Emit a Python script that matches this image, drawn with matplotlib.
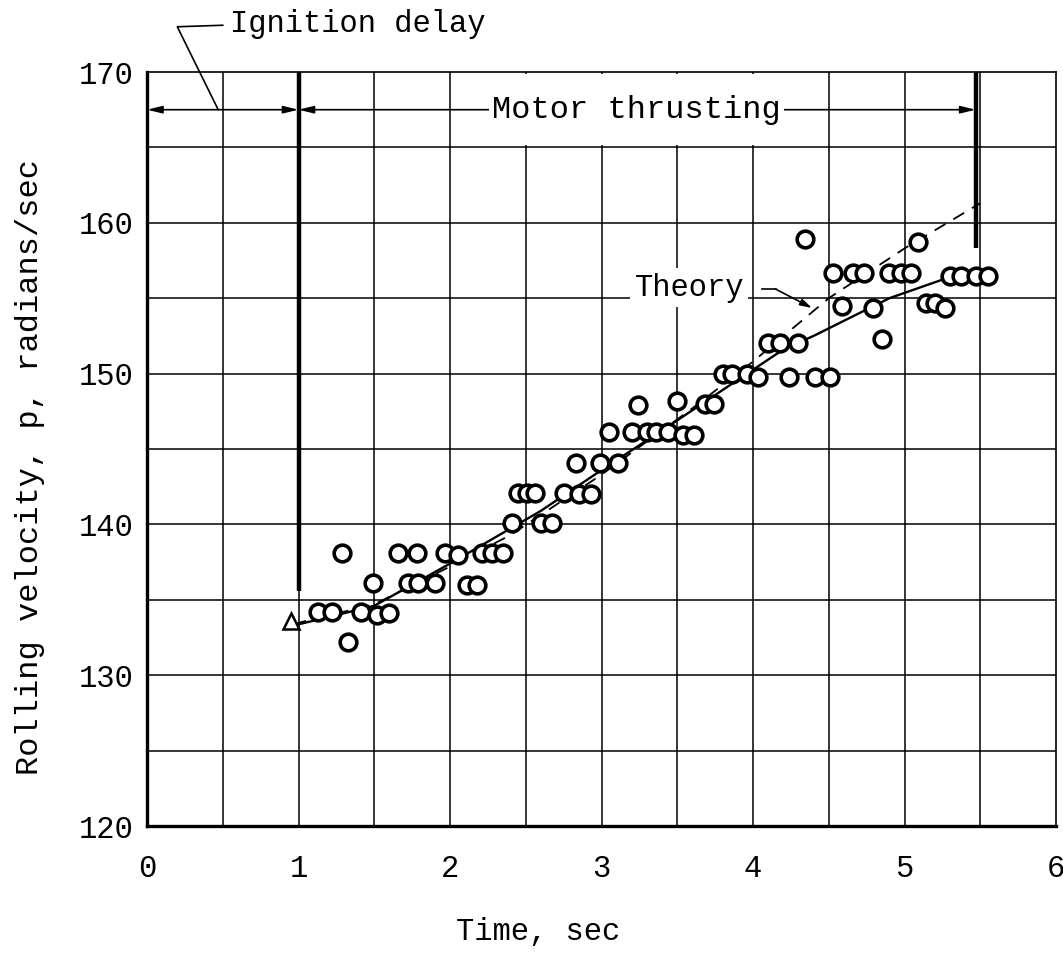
import matplotlib
matplotlib.use("Agg")
import matplotlib.pyplot as plt
from matplotlib.patches import Rectangle

plt.rcParams['font.family'] = ['Liberation Mono', 'DejaVu Sans Mono']

time_pts = [1.33,
            1.13, 1.22, 1.41, 1.52, 1.60,
            1.49, 1.72, 1.79, 1.90, 2.11, 2.18,
            1.29, 1.66, 1.78, 1.97, 2.05, 2.21, 2.28, 2.35,
            2.41, 2.60, 2.67,
            2.45, 2.51, 2.56, 2.75, 2.85, 2.93,
            2.83, 2.99, 3.11,
            3.05, 3.20, 3.30, 3.36, 3.44, 3.54, 3.61,
            3.24, 3.50, 3.68, 3.74,
            3.80, 3.86, 3.96, 4.03, 4.24, 4.41, 4.51,
            4.10, 4.18, 4.30, 4.85,
            4.59, 4.79, 5.14, 5.20, 5.27,
            4.53, 4.66, 4.73, 4.90, 4.98, 5.04,
            5.30, 5.37, 5.47, 5.55,
            4.34, 5.09]
roll_pts = [132.2,
            134.2, 134.2, 134.2, 134.0, 134.1,
            136.1, 136.1, 136.1, 136.1, 136.0, 136.0,
            138.1, 138.1, 138.1, 138.1, 138.0, 138.1, 138.1, 138.1,
            140.1, 140.1, 140.1,
            142.1, 142.1, 142.1, 142.1, 142.0, 142.0,
            144.1, 144.1, 144.1,
            146.1, 146.1, 146.1, 146.1, 146.1, 145.9, 145.9,
            147.9, 148.2, 148.0, 148.0,
            150.0, 150.0, 150.0, 149.8, 149.8, 149.8, 149.8,
            152.0, 152.0, 152.0, 152.3,
            154.5, 154.35, 154.7, 154.7, 154.35,
            156.7, 156.7, 156.7, 156.7, 156.7, 156.7,
            156.5, 156.5, 156.5, 156.5,
            158.9, 158.7]

# faired curve through the data
fair_t = [0.97, 1.5, 2.0, 2.6, 3.0, 3.5, 4.2, 4.4, 4.9, 5.27]
fair_p = [133.3, 134.6, 137.4, 140.9, 143.6, 146.9, 151.6, 152.5, 155.0, 156.3]

# theory (dashed)
theory_t = [0.97, 1.5, 2.0, 2.4, 3.0, 3.6, 4.0, 4.5, 5.0, 5.5]
theory_p = [133.4, 134.7, 137.2, 139.3, 143.3, 147.7, 150.8, 155.0, 158.3, 161.3]

start_t, start_p = 0.95, 133.6   # triangle at ignition
burnout_t = 5.47
xticks = [0, 1, 2, 3, 4, 5, 6]
yticks = [120, 130, 140, 150, 160, 170]

fs = 22
fig = plt.figure(figsize=(10.63, 9.56), dpi=100)
ax = fig.add_axes([147 / 1063, 130 / 956, 909 / 1063, 754 / 956])
ax.set_xlim(0, 6)
ax.set_ylim(120, 170)

# grid every 0.5 sec / 5 rad/sec
for gx in [0.5 * i for i in range(1, 12)]:
    ax.axvline(gx, color='black', lw=1.1, zorder=1)
for gy in range(125, 170, 5):
    ax.axhline(gy, color='black', lw=1.1, zorder=1)

ax.set_xticks(xticks)
ax.set_yticks(yticks)
ax.set_xticklabels([str(v) for v in xticks], fontsize=fs)
ax.set_yticklabels([str(v) for v in yticks], fontsize=fs)
ax.tick_params(axis='x', length=0, pad=20)
ax.tick_params(axis='y', length=0, pad=10)
ax.spines['left'].set_linewidth(2.4)
ax.spines['bottom'].set_linewidth(2.4)
ax.spines['top'].set_linewidth(1.2)
ax.spines['right'].set_linewidth(1.2)

# white patch where the label sits over the grid
ax.add_patch(Rectangle((2.28, 165.15), 2.0, 4.75, facecolor='white',
                       edgecolor='none', zorder=2))

# curves
ax.plot(fair_t, fair_p, color='black', lw=1.7, zorder=3)
ax.plot(theory_t, theory_p, color='black', lw=1.3, dashes=(7, 5), zorder=3)
ax.plot(time_pts, roll_pts, 'o', ms=12, mfc='white', mec='black', mew=2.6,
        zorder=4, ls='none')
ax.plot([start_t], [start_p], '^', ms=12, mfc='white', mec='black', mew=1.8,
        zorder=4)

# ignition / burnout markers
ax.plot([1.0, 1.0], [135.6, 170], color='black', lw=3.2, zorder=3,
        solid_capstyle='butt')
ax.plot([burnout_t, burnout_t], [158.3, 170], color='black', lw=3.2, zorder=3,
        solid_capstyle='butt')

arrow_kw = dict(arrowstyle='<|-|>,head_length=0.9,head_width=0.22',
                color='black', lw=1.2, shrinkA=0, shrinkB=0)
ax.annotate('', xy=(1.0, 167.5), xytext=(0.0, 167.5), arrowprops=arrow_kw,
            zorder=3)
ax.annotate('', xy=(burnout_t, 167.5), xytext=(1.0, 167.5),
            arrowprops=arrow_kw, zorder=3)
ax.text(3.23, 167.5, 'Motor thrusting', fontsize=fs + 1, ha='center',
        va='center', zorder=5,
        bbox=dict(facecolor='white', edgecolor='none', pad=2))

# ignition delay label with leader
ax.plot([0.50, 0.20, 0.47], [173.1, 173.0, 167.5], color='black', lw=1.2,
        clip_on=False, zorder=5)
ax.text(0.55, 173.2, 'Ignition delay', fontsize=fs, ha='left', va='center',
        clip_on=False)

# theory label
ax.text(3.58, 155.7, 'Theory', fontsize=fs, ha='center', va='center',
        zorder=5, bbox=dict(facecolor='white', edgecolor='none', pad=3))
ax.plot([4.06, 4.15], [155.6, 155.6], color='black', lw=1.2, zorder=5)
ax.annotate('', xy=(4.39, 154.35), xytext=(4.15, 155.6),
            arrowprops=dict(arrowstyle='-|>,head_length=0.7,head_width=0.2',
                            color='black', lw=1.2, shrinkA=0, shrinkB=0),
            zorder=5)

fig.text(538 / 1063, 1 - 932 / 956, 'Time, sec', fontsize=fs, ha='center',
         va='center')
fig.text(30 / 1063, 1 - 467 / 956, 'Rolling velocity, p, radians/sec',
         fontsize=fs + 1, rotation=90, ha='center', va='center')

fig.savefig('out.png', dpi=100)
